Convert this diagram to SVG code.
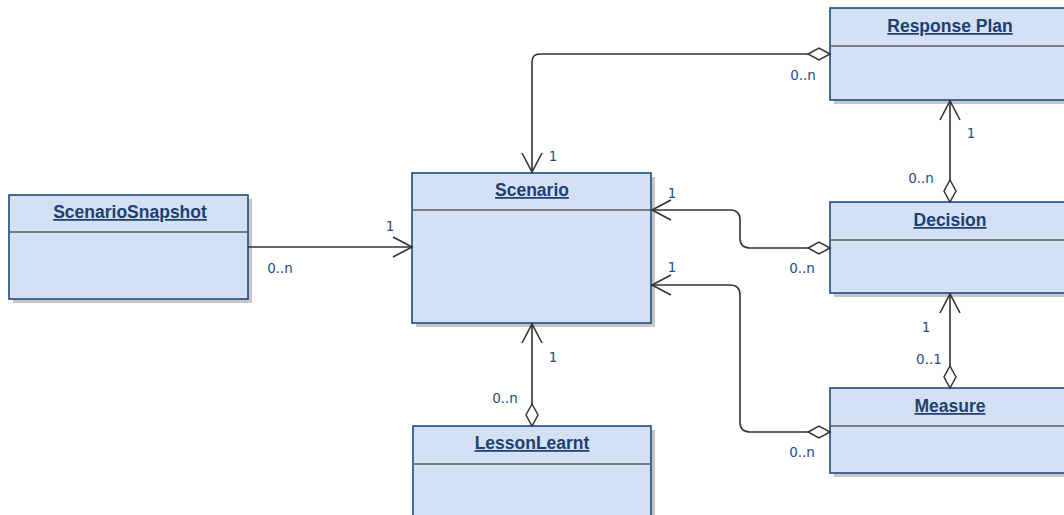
<svg xmlns="http://www.w3.org/2000/svg" width="1064" height="515" viewBox="0 0 1064 515">
  <style>
    .shadow { fill: #c6c6c6; }
    .box { fill: #d4e1f4; stroke: #1d4b7e; stroke-width: 1.6; }
    .div { stroke: #5a5a5a; stroke-width: 1.5; }
    .title { font-family: "Liberation Sans", Arial, sans-serif; font-weight: bold; font-size: 17.5px; fill: #1d3f72; text-anchor: middle; text-decoration: underline; }
    .conn { fill: none; stroke: #333333; stroke-width: 1.6; }
    .mult { font-family: "DejaVu Sans", Verdana, sans-serif; font-size: 13.5px; fill: #264d84; text-anchor: middle; }
  </style>
  <defs>
    <marker id="agg" markerUnits="userSpaceOnUse" markerWidth="24" markerHeight="14" refX="0" refY="6" orient="auto" overflow="visible">
      <path d="M0,6 L11,0 L22,6 L11,12 Z" fill="#ffffff" stroke="#333333" stroke-width="1.5"/>
    </marker>
    <marker id="open" markerUnits="userSpaceOnUse" markerWidth="24" markerHeight="22" refX="20" refY="10" orient="auto" overflow="visible">
      <path d="M1,0 L20,10 L1,20" fill="none" stroke="#333333" stroke-width="1.6"/>
    </marker>
  </defs>

  <g id="response-plan">
    <rect class="shadow" x="834" y="12" width="240" height="92"/>
    <rect class="box" x="830" y="8" width="240" height="92"/>
    <line class="div" x1="831" y1="46" x2="1070" y2="46"/>
    <text class="title" x="950" y="32">Response Plan</text>
  </g>

  <g id="scenario">
    <rect class="shadow" x="416" y="177" width="239" height="150"/>
    <rect class="box" x="412" y="173" width="239" height="150"/>
    <line class="div" x1="413" y1="210" x2="650" y2="210"/>
    <text class="title" x="532" y="196">Scenario</text>
  </g>

  <g id="scenario-snapshot">
    <rect class="shadow" x="13" y="199" width="239" height="104"/>
    <rect class="box" x="9" y="195" width="239" height="104"/>
    <line class="div" x1="10" y1="232" x2="247" y2="232"/>
    <text class="title" x="130" y="218">ScenarioSnapshot</text>
  </g>

  <g id="decision">
    <rect class="shadow" x="834" y="206" width="240" height="91"/>
    <rect class="box" x="830" y="202" width="240" height="91"/>
    <line class="div" x1="831" y1="240" x2="1070" y2="240"/>
    <text class="title" x="950" y="226">Decision</text>
  </g>

  <g id="measure">
    <rect class="shadow" x="834" y="392" width="240" height="85"/>
    <rect class="box" x="830" y="388" width="240" height="85"/>
    <line class="div" x1="831" y1="426" x2="1070" y2="426"/>
    <text class="title" x="950" y="412">Measure</text>
  </g>

  <g id="lesson-learnt">
    <rect class="shadow" x="417" y="430" width="238" height="100"/>
    <rect class="box" x="413" y="426" width="238" height="100"/>
    <line class="div" x1="414" y1="464" x2="650" y2="464"/>
    <text class="title" x="532" y="449">LessonLearnt</text>
  </g>

  <!-- associations: aggregation diamond at the owning end, open arrow at the target -->
  <g id="connectors">
    <path class="conn" d="M830,54 H540 Q532,54 532,62 V172" marker-start="url(#agg)" marker-end="url(#open)"/>
    <path class="conn" d="M830,248 H750 Q740,248 740,238 V220 Q740,210 730,210 H652" marker-start="url(#agg)" marker-end="url(#open)"/>
    <path class="conn" d="M830,432 H750 Q740,432 740,422 V295 Q740,285 730,285 H652" marker-start="url(#agg)" marker-end="url(#open)"/>
    <path class="conn" d="M950,388 V294" marker-start="url(#agg)" marker-end="url(#open)"/>
    <path class="conn" d="M950,202 V101" marker-start="url(#agg)" marker-end="url(#open)"/>
    <path class="conn" d="M248,247 H412" marker-end="url(#open)"/>
    <path class="conn" d="M532,426 V324" marker-start="url(#agg)" marker-end="url(#open)"/>

    <text class="mult" x="553" y="161">1</text>
    <text class="mult" x="803" y="80">0..n</text>
    <text class="mult" x="971" y="138">1</text>
    <text class="mult" x="921" y="183">0..n</text>
    <text class="mult" x="672" y="198">1</text>
    <text class="mult" x="802" y="273">0..n</text>
    <text class="mult" x="672" y="272">1</text>
    <text class="mult" x="802" y="457">0..n</text>
    <text class="mult" x="926" y="332">1</text>
    <text class="mult" x="929" y="364">0..1</text>
    <text class="mult" x="390" y="231">1</text>
    <text class="mult" x="280" y="273">0..n</text>
    <text class="mult" x="553" y="362">1</text>
    <text class="mult" x="505" y="403">0..n</text>
  </g>
</svg>
